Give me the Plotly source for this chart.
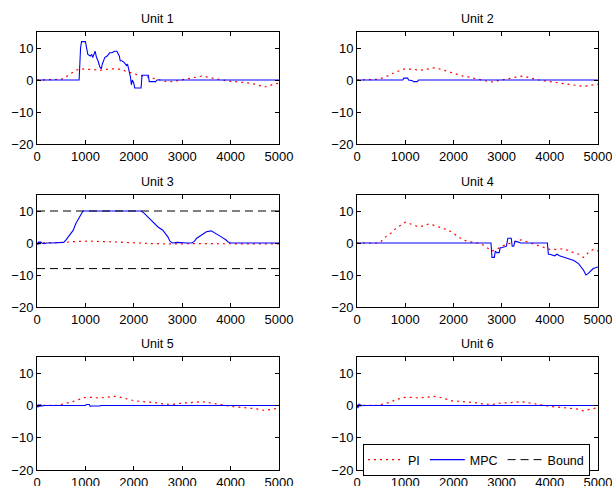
import plotly.graph_objects as go

# ---------------- data ----------------
PI_X = list(range(0, 5001, 100))

PI_1 = [0, 0, 0, 0, 0, 0.2, 1, 2, 3, 3.5, 3.5, 3.3, 3.2, 3, 3.3, 3.5, 3.5, 3.4, 3, 2.5,
        2, 1.5, 1.2, 1, 0.5, 0.2, -0.3, -0.6, -0.5, -0.2, 0.2, 0.5, 0.8, 1, 1.2, 1, 0.6, 0.3,
        0.1, -0.2, -0.4, -0.5, -0.6, -0.8, -1, -1.3, -1.8, -2.2, -1.8, -1.2, -1]
PI_2 = [0, 0, 0, 0, 0.2, 0.5, 1, 1.8, 2.5, 3, 3.5, 3.5, 3.3, 3, 3.2, 3.5, 3.8, 3.5, 3, 2.5,
        2, 1.5, 1.2, 1, 0.6, 0.3, 0, -0.4, -0.6, -0.3, 0.2, 0.5, 0.8, 1, 1.2, 1, 0.6, 0.2,
        -0.1, -0.3, -0.5, -0.6, -0.8, -1, -1.2, -1.5, -1.8, -2, -1.8, -1.5, -1.3]
PI_3 = [0, 0, 0, 0, 0, 0, 0.2, 0.4, 0.5, 0.5, 0.6, 0.6, 0.5, 0.5, 0.5, 0.5, 0.4, 0.3, 0.2, 0.1,
        0, 0, -0.1, -0.1, -0.2, -0.2, -0.3, -0.3, -0.3, -0.3, -0.2, -0.2, -0.2, -0.2, -0.2, -0.2,
        -0.2, -0.2, -0.2, -0.3, -0.3, -0.3, -0.3, -0.3, -0.3, -0.3, -0.3, -0.3, -0.3, -0.3, -0.3]
PI_4 = [0, 0, 0, 0, 0, 0.5, 2, 3, 4.5, 5.5, 6.5, 6, 5.5, 5, 5.5, 6, 5.5, 5, 4.5, 4,
        3, 2, 1, 0.5, 0.3, 0, -0.5, -1.5, -2.5, -2, -1, -0.5, 0, 0.5, 1, 0.5, 0, -0.5,
        -1, -1.5, -2, -2, -2, -1.8, -2.5, -3, -3.5, -4.5, -3, -2, -2.5]
PI_5 = [0, 0, 0, 0, 0, 0.3, 0.6, 1, 1.5, 2, 2.5, 2.5, 2.3, 2.3, 2.5, 2.7, 2.8, 2.6, 2.2, 1.8,
        1.5, 1.3, 1.2, 1, 1, 0.8, 0.5, 0.3, 0.3, 0.5, 0.8, 0.8, 0.8, 1, 1.2, 1, 0.7, 0.5,
        0.2, 0, -0.3, -0.4, -0.5, -0.6, -0.8, -1, -1.2, -1.6, -1.3, -1, -0.8]
PI_6 = [0, 0, 0, 0, 0, 0.3, 0.6, 1, 1.8, 2.2, 2.5, 2.5, 2.3, 2.3, 2.5, 2.7, 2.8, 2.6, 2.2, 1.6,
        1.3, 1.3, 1.2, 1, 1, 0.8, 0.5, 0.3, 0.3, 0.5, 0.8, 0.8, 0.8, 1, 1.2, 1, 0.7, 0.5,
        0.2, 0, -0.3, -0.4, -0.5, -0.6, -0.8, -1, -1.2, -1.7, -1.3, -1, -0.7]

MPC_X_1 = [0, 870, 900, 920, 1000, 1020, 1050, 1100, 1130, 1150, 1170, 1200, 1230, 1260, 1300,
           1330, 1350, 1400, 1450, 1500, 1550, 1600, 1650, 1700, 1720, 1750, 1800, 1850, 1870,
           1900, 1930, 1950, 1970, 2000, 2020, 2050, 2100, 2150, 2170, 2200, 2250, 2300, 2320,
           2450, 2480, 5000]
MPC_Y_1 = [0, 0, 10, 12, 12, 10, 8, 7.5, 8, 7, 8, 9, 7, 6, 4,
           3.5, 5, 7, 7.5, 8.5, 8.5, 9, 9, 7.5, 6, 6, 5.5, 4.5, 5,
           3, 1, -1.5, 0, -1, -2.5, -2.5, -2.5, -2.5, 1.5, 1.5, 1.5, 1.5, -0.5,
           -0.5, 0, 0]
MPC_X_2 = [0, 950, 970, 1050, 1070, 1150, 1170, 1250, 1280, 1350, 5000]
MPC_Y_2 = [0, 0, 0.6, 0.6, 0, -0.2, -0.5, -0.5, 0, 0, 0]
MPC_X_3 = [0, 20, 40, 60, 80, 100, 150, 200, 300, 400, 500, 550, 600, 650, 700, 750, 800, 850,
           900, 950, 1000, 1200, 1250, 1500, 2000, 2150, 2200, 2300, 2400, 2500, 2600, 2650,
           2700, 2750, 2800, 2900, 3000, 3100, 3200, 3250, 3300, 3400, 3500, 3600, 3700, 3800,
           3900, 3950, 4000, 5000]
MPC_Y_3 = [0, -0.5, 0.5, -0.3, 0.3, 0, -0.2, 0, 0, 0, 0, 0.2, 1, 2, 3, 4, 6, 7.5,
           9, 10, 10, 10, 9.8, 10, 10, 10, 9.5, 8, 6.5, 5, 4, 3,
           2, 0.5, 0, 0.2, 0, 0, 0, 0.5, 1.5, 2.5, 3.5, 3.8, 3, 2,
           1, 0.3, 0, 0]
MPC_X_4 = [0, 2780, 2800, 2850, 2870, 2900, 2950, 2970, 3000, 3100, 3130, 3150, 3200, 3220,
           3250, 3280, 3300, 3400, 3950, 3970, 4000, 4100, 4150, 4200, 4300, 4400, 4500, 4600,
           4700, 4750, 4800, 4900, 5000]
MPC_Y_4 = [0, 0, -4.5, -4.5, -2.5, -3, -3, -1.5, -1.5, -1, 1.5, 1.5, 1.5, -1,
           -1, 0.5, 0.5, 0, 0, -3.5, -3.5, -4, -3.5, -4, -4.5, -5, -5.5, -6.5,
           -8.5, -10, -9.5, -8, -7.5]
MPC_X_5 = [0, 20, 40, 60, 80, 100, 150, 200, 1000, 1020, 1080, 1100, 1120, 1300, 1320, 5000]
MPC_Y_5 = [0, -0.6, 0.3, -0.4, 0.2, -0.2, 0, 0, 0, 0.3, 0.3, -0.3, -0.2, -0.2, 0, 0]
MPC_X_6 = [0, 20, 40, 60, 80, 100, 150, 5000]
MPC_Y_6 = [0, -0.8, 0.5, -0.3, 0.2, -0.1, 0, 0]

BOUND_UPPER = 10
BOUND_LOWER = -8
BOUND_X = [0, 5000]

UNIT_TITLES = ["Unit 1", "Unit 2", "Unit 3", "Unit 4", "Unit 5", "Unit 6"]
X_TICKS = [0, 1000, 2000, 3000, 4000, 5000]
Y_TICKS = [-20, -10, 0, 10]
X_RANGE = [0, 5000]
Y_RANGE = [-20, 15]

PI_SERIES = [PI_1, PI_2, PI_3, PI_4, PI_5, PI_6]
MPC_SERIES = [(MPC_X_1, MPC_Y_1), (MPC_X_2, MPC_Y_2), (MPC_X_3, MPC_Y_3),
              (MPC_X_4, MPC_Y_4), (MPC_X_5, MPC_Y_5), (MPC_X_6, MPC_Y_6)]

# ---------------- layout geometry (pixels) ----------------
W, H = 612, 486
COLS = [(37, 279), (357, 598)]
ROWS = [(32, 144), (195, 307), (357, 470)]

FONT = "Liberation Sans, Arial, Helvetica, sans-serif"

fig = go.Figure()
annotations = []
layout_axes = {}

for i in range(6):
    r, c = divmod(i, 2)
    n = i + 1
    xa = "x" if n == 1 else f"x{n}"
    ya = "y" if n == 1 else f"y{n}"
    xkey = "xaxis" if n == 1 else f"xaxis{n}"
    ykey = "yaxis" if n == 1 else f"yaxis{n}"
    x0, x1 = COLS[c]
    top, bot = ROWS[r]
    xdom = [x0 / W, x1 / W]
    ydom = [1 - bot / H, 1 - top / H]

    fig.add_trace(go.Scatter(
        x=PI_X, y=PI_SERIES[i], mode="lines", name="PI",
        line=dict(color="#ff0000", width=1.2, dash="2px,4px"),
        xaxis=xa, yaxis=ya, legendgroup="PI", showlegend=(n == 1)))
    mx, my = MPC_SERIES[i]
    fig.add_trace(go.Scatter(
        x=mx, y=my, mode="lines", name="MPC",
        line=dict(color="#0000ff", width=1.1),
        xaxis=xa, yaxis=ya, legendgroup="MPC", showlegend=(n == 1)))
    if n == 3:
        fig.add_trace(go.Scatter(
            x=BOUND_X + [None] + BOUND_X,
            y=[BOUND_UPPER, BOUND_UPPER, None, BOUND_LOWER, BOUND_LOWER],
            mode="lines", name="Bound",
            line=dict(color="black", width=1, dash="8px,5px"),
            xaxis=xa, yaxis=ya, legendgroup="Bound", showlegend=True))

    common = dict(showline=True, linecolor="black", linewidth=1, mirror="ticks",
                  ticks="inside", ticklen=4, tickcolor="black", showgrid=False,
                  zeroline=False, automargin=False, ticklabeloverflow="allow",
                  tickfont=dict(family=FONT, size=13, color="black"))
    layout_axes[xkey] = dict(domain=xdom, anchor=ya, range=X_RANGE, tickvals=X_TICKS, **common)
    layout_axes[ykey] = dict(domain=ydom, anchor=xa, range=Y_RANGE, tickvals=Y_TICKS, **common)

    annotations.append(dict(
        text=UNIT_TITLES[i], xref="paper", yref="paper",
        x=(xdom[0] + xdom[1]) / 2, y=ydom[1], xanchor="center", yanchor="bottom",
        yshift=4, showarrow=False, font=dict(family=FONT, size=12.5, color="black")))

fig.update_layout(
    template="none",
    width=W, height=H,
    margin=dict(l=0, r=0, t=0, b=0, autoexpand=False),
    paper_bgcolor="white", plot_bgcolor="white",
    annotations=annotations,
    showlegend=True,
    legend=dict(orientation="h", x=363 / W, y=1 - 444 / H, xanchor="left", yanchor="top",
                bgcolor="white", bordercolor="black", borderwidth=1,
                font=dict(family=FONT, size=12.5, color="black"),
                itemwidth=35, tracegroupgap=0),
    **layout_axes,
)

fig.write_html("out.html")
